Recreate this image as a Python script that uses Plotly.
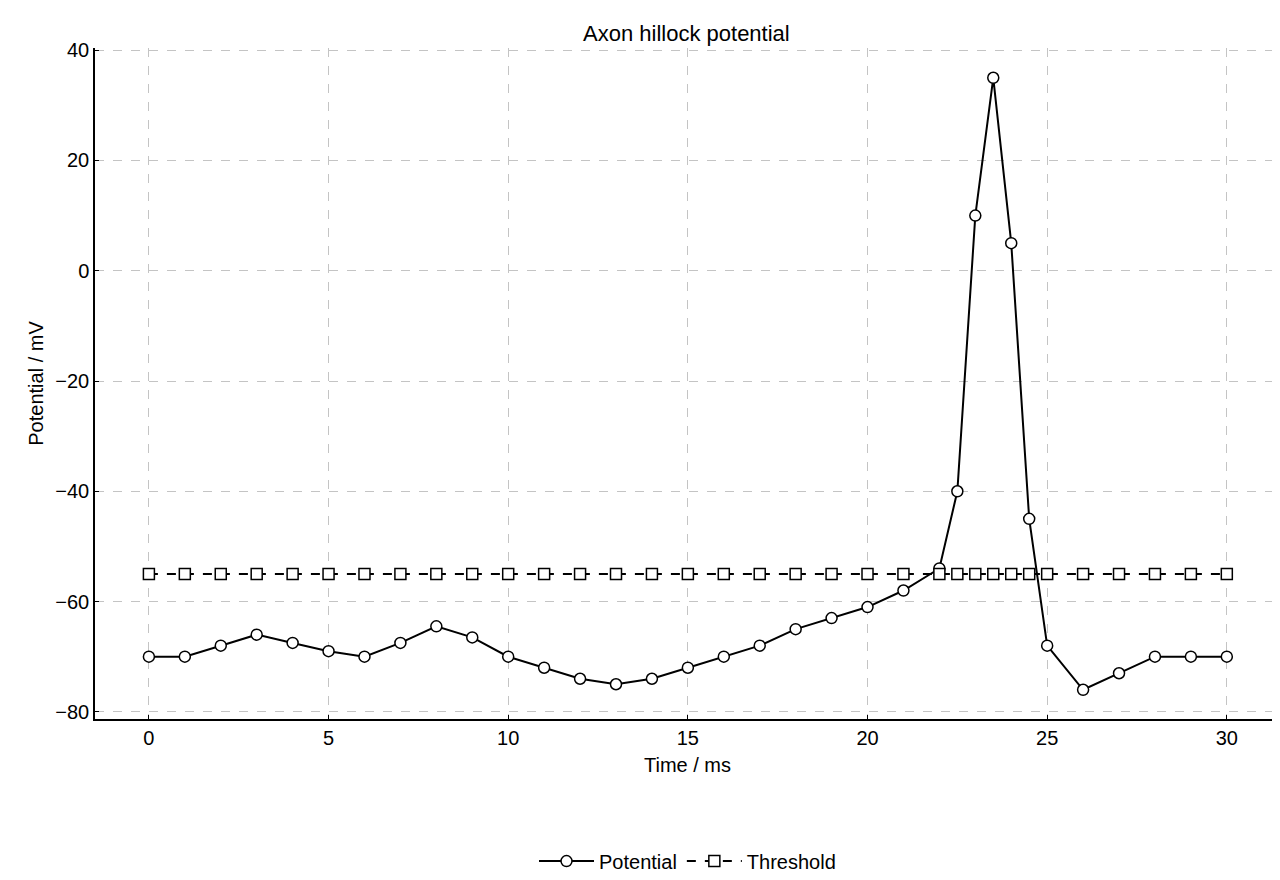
import plotly.graph_objects as go

time_ms = [0, 1, 2, 3, 4, 5, 6, 7, 8, 9, 10, 11, 12, 13, 14, 15, 16, 17, 18, 19, 20, 21, 22,
           22.5, 23, 23.5, 24, 24.5, 25, 26, 27, 28, 29, 30]
potential = [-70, -70, -68, -66, -67.5, -69, -70, -67.5, -64.5, -66.5, -70, -72, -74, -75, -74,
             -72, -70, -68, -65, -63, -61, -58, -54, -40, 10, 35, 5, -45, -68, -76, -73, -70, -70, -70]
threshold = [-55] * len(time_ms)

fig = go.Figure()
fig.add_trace(go.Scatter(
    x=time_ms, y=potential, name="Potential", mode="lines+markers",
    line=dict(color="black", width=2),
    marker=dict(symbol="circle", size=11, color="white", line=dict(color="black", width=1.5))))
fig.add_trace(go.Scatter(
    x=time_ms, y=threshold, name="Threshold", mode="lines+markers",
    line=dict(color="black", width=2, dash="dash"),
    marker=dict(symbol="square", size=11, color="white", line=dict(color="black", width=1.5))))

axis_style = dict(showline=True, linecolor="black", linewidth=1.5, ticks="inside",
                  ticklen=4, tickcolor="black", showgrid=True, gridcolor="#c4c4c4",
                  griddash="dash", gridwidth=0.8, zeroline=False, mirror=False,
                  tickfont=dict(size=20))

fig.update_layout(
    width=1280, height=880,
    font=dict(family="Liberation Sans, Arial, sans-serif", color="black", size=20),
    plot_bgcolor="white", paper_bgcolor="white",
    margin=dict(l=87, r=8, t=40, b=168),
    title=dict(text="Axon hillock potential", x=0.53, xanchor="center", y=0.98, font=dict(size=22)),
    xaxis=dict(title=dict(text="Time / ms", standoff=10, font=dict(size=20)),
               range=[-1.5, 31.48], dtick=5, **axis_style),
    yaxis=dict(title=dict(text="Potential / mV", standoff=6, font=dict(size=20)),
               range=[-81.3, 40.4], dtick=20, **axis_style),
    legend=dict(orientation="h", x=0.5, xanchor="center", y=-0.21, yanchor="middle",
                font=dict(size=20), itemwidth=55, tracegroupgap=40),
)

fig.write_html("out.html")
